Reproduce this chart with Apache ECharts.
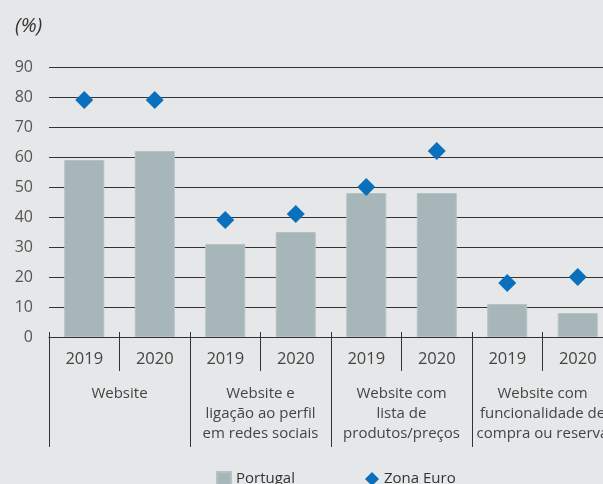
<!DOCTYPE html>
<html>
<head>
<meta charset="utf-8">
<script src="https://cdn.jsdelivr.net/npm/echarts@6/dist/echarts.min.js"></script>
<style>html,body{margin:0;padding:0;background:#e6e7e8;overflow:hidden;width:603px;height:484px;}#c{width:613px;height:484px;}</style>
</head>
<body>
<div id="c"></div>
<script>
const years = ['2019','2020','2019','2020','2019','2020','2019','2020'];
const groups = ['Website','Website e\nligação ao perfil\nem redes sociais','Website com\nlista de\nprodutos/preços','Website com\nfuncionalidade de\ncompra ou reserva'];
const portugal = [59, 62, 31, 35, 48, 48, 11, 8];
const zonaEuro = [79, 79, 39, 41, 50, 62, 18, 20];
const yTicks = {min: 0, max: 90, interval: 10};

const FONT = 'Open Sans';
const chart = echarts.init(document.getElementById('c'));
chart.setOption({
  backgroundColor: '#e6e7e8',
  textStyle: {fontFamily: FONT},
  title: {text: '(%)', left: 10, top: 11, textStyle: {fontFamily: FONT, fontStyle: 'italic', fontWeight: 'normal', fontSize: 20, color: '#333'}},
  grid: {left: 49, right: 0, top: 67, bottom: 147},
  legend: {
    left: 211, top: 466, itemWidth: 14, itemHeight: 14, itemGap: 70,
    textStyle: {fontFamily: FONT, fontSize: 15, color: '#333'},
    data: [{name: 'Portugal', icon: 'rect'}, {name: 'Zona Euro', icon: 'diamond'}]
  },
  xAxis: [
    {type: 'category', data: years, position: 'bottom',
     axisLine: {show: true, lineStyle: {color: '#333', width: 1}},
     axisTick: {show: false},
     axisLabel: {margin: 14, fontSize: 16.5, color: '#444', fontFamily: FONT, interval: 0}},
    {type: 'category', data: years, position: 'bottom', offset: -5,
     axisLine: {show: false},
     axisTick: {show: true, length: 39, interval: 0, lineStyle: {color: '#333', width: 1}},
     axisLabel: {show: false}},
    {type: 'category', data: groups, position: 'bottom', offset: -5,
     axisLine: {show: false},
     axisTick: {show: true, length: 115, interval: 0, lineStyle: {color: '#333', width: 1}},
     axisLabel: {margin: 52, fontSize: 15, lineHeight: 20, color: '#444', fontFamily: FONT, interval: 0}}
  ],
  yAxis: {
    type: 'value', min: yTicks.min, max: yTicks.max, interval: yTicks.interval,
    axisLine: {show: false}, axisTick: {show: false},
    axisLabel: {margin: 16, fontSize: 16, color: '#555', fontFamily: FONT},
    splitLine: {lineStyle: {color: '#333', width: 1}}
  },
  series: [
    {name: 'Portugal', type: 'bar', xAxisIndex: 0, data: portugal, barWidth: 40,
     itemStyle: {color: '#a7b6b9', borderColor: '#b4c2c4', borderWidth: 1}},
    {name: 'Zona Euro', type: 'scatter', xAxisIndex: 0, data: zonaEuro, symbol: 'diamond', symbolSize: 18,
     itemStyle: {color: '#0a70bd', opacity: 1}, z: 5}
  ]
});
</script>
</body>
</html>
